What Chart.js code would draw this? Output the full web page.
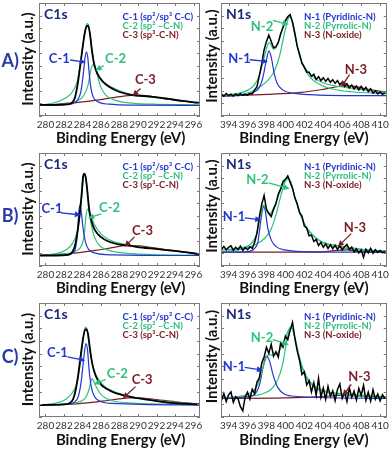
<!DOCTYPE html>
<html>
<head>
<meta charset="utf-8">
<script src="https://cdn.jsdelivr.net/npm/chart.js@4.4.0/dist/chart.umd.min.js"></script>
<style>
html, body { margin: 0; padding: 0; background: #fff; }
#wrap { position: relative; width: 392px; height: 451px; overflow: hidden; }
canvas { position: absolute; }
</style>
</head>
<body>
<div id="wrap">
  <canvas id="aC" width="215" height="150" style="left:0;top:0"></canvas>
  <canvas id="aN" width="192" height="150" style="left:200px;top:0"></canvas>
  <canvas id="bC" width="215" height="150" style="left:0;top:150px"></canvas>
  <canvas id="bN" width="192" height="150" style="left:200px;top:150px"></canvas>
  <canvas id="cC" width="215" height="151" style="left:0;top:300px"></canvas>
  <canvas id="cN" width="192" height="151" style="left:200px;top:300px"></canvas>
</div>
<script>
// axes
var c1sTicks = [280, 282, 284, 286, 288, 290, 292, 294, 296];
var n1sTicks = [394, 396, 398, 400, 402, 404, 406, 408, 410];
var yTicks = [0, 10, 20, 30, 40, 50, 60, 70, 80, 90];

// C1s spectra, [binding energy, intensity]
var aC1sData = [[279.27,8.9],[281.13,8.9],[282.56,9.4],[282.99,11.5],[283.21,15.4],[283.46,24.5],[283.71,37.6],[283.99,53.2],[284.25,66.3],[284.46,71.5],[284.61,72.0],[284.79,66.3],[285.0,53.2],[285.25,41.5],[285.61,33.7],[286.15,27.7],[286.87,23.2],[287.94,19.3],[289.37,16.7],[290.81,15.9],[291.88,15.1],[293.32,13.6],[294.75,12.0],[296.69,10.4]];
var aC1sFit = [[279.27,8.35],[281.13,10.96],[282.21,14.6],[282.92,19.3],[283.46,28.4],[283.82,44.1],[284.18,63.6],[284.43,72.8],[284.57,73.6],[284.79,66.8],[285.07,50.6],[285.43,37.6],[285.97,29.7],[286.87,24.0],[288.3,19.3],[289.73,16.4],[291.52,14.9],[293.32,13.6],[296.69,9.9]];
var aC1 = [[279.27,8.35],[281.85,8.87],[282.92,9.9],[283.46,12.8],[283.82,19.3],[284.07,32.4],[284.28,46.7],[284.43,51.1],[284.57,46.7],[284.71,35.0],[284.89,23.2],[285.14,15.4],[285.61,11.5],[286.87,9.4],[289.73,8.6],[296.69,8.35]];
var aC2 = [[279.27,8.35],[281.85,9.4],[283.28,11.5],[284.18,16.7],[284.64,25.8],[284.89,36.3],[285.14,40.7],[285.36,38.9],[285.61,32.4],[285.97,23.2],[286.51,16.7],[287.4,12.8],[289.02,10.4],[291.52,9.4],[296.69,8.87]];
var aC3 = [[279.27,8.35],[282.56,10.2],[286.15,13.3],[288.3,15.65],[289.73,16.7],[290.81,16.2],[292.6,14.1],[294.75,12.0],[296.69,10.4]];

var bC1sData = [[279.27,8.35],[281.13,8.35],[282.38,8.87],[282.74,9.9],[283.1,14.1],[283.35,21.9],[283.64,37.6],[283.89,55.8],[284.07,71.5],[284.21,73.6],[284.36,70.2],[284.54,58.4],[284.71,45.4],[285.0,35.0],[285.36,28.4],[285.97,23.2],[286.87,19.3],[287.94,17.2],[289.02,16.2],[290.45,14.6],[291.88,13.6],[293.32,12.5],[295.11,11.0],[296.69,9.4]];
var bC1sFit = [[279.27,8.35],[281.13,9.9],[282.21,12.8],[282.92,18.0],[283.46,28.4],[283.82,46.7],[284.07,67.6],[284.21,72.8],[284.36,70.2],[284.57,55.8],[284.82,42.8],[285.25,33.7],[285.97,25.8],[287.22,19.8],[289.02,16.7],[291.52,14.1],[296.69,9.4]];
var bC1 = [[279.27,8.35],[282.21,8.87],[282.92,10.2],[283.28,15.4],[283.46,27.1],[283.6,42.8],[283.71,48.5],[283.85,44.1],[284.07,29.7],[284.36,18.0],[284.71,12.8],[285.43,10.2],[287.22,8.87],[296.69,8.35]];
var bC2 = [[279.27,8.35],[281.85,9.4],[283.28,12.0],[283.93,16.7],[284.18,24.5],[284.36,38.9],[284.54,45.4],[284.71,42.8],[284.93,33.7],[285.25,24.0],[285.79,16.7],[286.69,12.8],[288.3,10.4],[291.52,9.1],[296.69,8.6]];
var bC3 = [[279.27,8.35],[282.56,9.9],[285.43,12.5],[287.22,14.6],[288.66,16.2],[289.73,16.2],[291.52,14.6],[294.03,12.0],[296.69,9.4]];

var cC1sData = [[279.27,9.4],[281.85,9.9],[282.56,10.7],[282.99,14.1],[283.28,21.9],[283.57,35.0],[283.82,49.3],[284.07,62.4],[284.28,68.9],[284.43,69.4],[284.61,65.0],[284.82,53.2],[285.07,41.5],[285.43,32.4],[285.97,25.8],[286.69,21.9],[287.58,18.8],[288.66,16.7],[289.73,15.1],[291.16,13.6],[292.6,12.0],[294.39,10.7],[296.69,9.9]];
var cC1sFit = [[279.27,9.4],[281.13,11.0],[282.21,14.1],[282.92,19.3],[283.46,28.4],[283.82,45.4],[284.11,63.7],[284.32,71.0],[284.5,68.9],[284.71,57.1],[285.0,44.1],[285.43,33.7],[286.15,25.8],[287.22,20.6],[288.66,17.2],[290.81,14.1],[293.32,12.0],[296.69,10.2]];
var cC1 = [[279.27,9.4],[282.21,9.9],[283.1,11.5],[283.57,16.7],[283.89,29.7],[284.14,46.7],[284.36,57.9],[284.54,53.2],[284.71,37.6],[284.93,24.5],[285.25,16.7],[285.79,12.8],[287.22,10.7],[296.69,9.4]];
var cC2 = [[279.27,9.4],[281.85,9.9],[283.64,12.0],[284.36,15.4],[284.71,21.9],[284.89,27.7],[285.04,30.3],[285.25,27.7],[285.61,21.9],[286.15,16.7],[287.22,12.8],[289.37,11.0],[296.69,9.9]];
var cC3 = [[279.27,9.4],[283.28,10.4],[286.15,12.5],[287.94,14.3],[289.02,15.1],[290.09,15.1],[291.52,14.1],[294.03,12.0],[296.69,10.2]];

// N1s raw counts on the measured energy steps
var n1sEnergy = [393.25,393.5,393.75,394,394.25,394.5,394.75,395,395.25,395.5,395.75,396,396.25,396.5,396.75,397,397.25,397.5,397.75,398,398.25,398.5,398.75,399,399.25,399.5,399.75,400,400.25,400.5,400.75,401,401.25,401.5,401.75,402,402.25,402.5,402.75,403,403.25,403.5,403.75,404,404.25,404.5,404.75,405,405.25,405.5,405.75,406,406.25,406.5,406.75,407,407.25,407.5,407.75,408,408.25,408.5,408.75,409,409.25,409.5,409.75,410,410.25,410.5];
var aN1sCounts = [17.5,15.8,17.9,16.2,17.4,15.9,17.6,16.3,17.8,16.5,17.2,16.6,18.0,17.6,20.8,23.4,32.2,41.5,52.6,59.4,64.5,59.6,54.4,55.1,58.6,65.5,70.6,76.0,79.0,80.8,75.0,66.0,55.4,49.2,41.8,38.9,35.0,34.9,31.6,33.2,29.0,31.4,28.2,30.5,27.6,29.8,26.9,28.9,26.0,28.3,24.8,26.8,23.6,25.7,22.4,24.6,21.5,23.9,20.8,23.6,20.5,22.8,19.4,21.6,18.3,20.0,17.6,19.1,17.2,18.4];
var bN1sCounts = [13.2,15.6,12.9,14.8,16.0,12.6,14.9,13.1,15.8,12.4,14.6,13.0,15.2,14.0,18.8,26.2,39.4,49.1,56.2,45.3,42.0,39.4,45.1,49.6,57.4,61.5,67.3,69.0,71.8,66.6,62.0,54.1,49.6,42.4,39.7,31.8,30.3,24.1,24.6,19.5,21.2,16.4,18.8,14.9,17.6,14.0,16.9,13.6,16.5,13.2,16.0,12.9,15.4,17.2,13.0,15.0,11.2,13.6,10.4,12.8,7.0,13.4,10.6,14.0,10.2,12.9,10.8,12.4,10.5,11.8];
var cN1sCounts = [13.0,18.6,12.2,17.4,19.8,11.6,16.0,14.4,8.2,4.9,15.8,19.6,14.2,21.8,18.4,27.6,30.8,42.5,47.4,55.0,50.2,57.3,48.0,51.5,47.3,58.6,55.2,63.8,61.0,68.4,74.6,62.3,52.0,44.6,33.5,35.8,25.4,28.6,19.7,27.0,17.2,30.4,15.6,22.8,14.0,24.2,16.4,20.6,13.0,21.8,26.2,14.8,19.4,12.2,23.0,15.6,20.4,13.4,22.6,17.0,25.0,13.2,19.6,12.6,21.4,14.0,18.2,12.8,17.6,14.6];

// N1s fitted components
var aN1sFit = [[393.16,16.2],[394.99,18.0],[396.04,20.6],[396.75,25.0],[397.28,32.9],[397.8,48.0],[398.15,57.1],[398.33,58.4],[398.61,54.5],[398.86,53.2],[399.21,58.4],[399.74,70.2],[400.16,78.0],[400.4,79.3],[400.69,76.2],[401.04,63.7],[401.5,48.0],[402.02,38.9],[402.73,32.4],[403.78,27.1],[405.19,24.0],[406.24,23.0],[407.65,21.4],[410.7,18.6]];
var aN1 = [[393.16,16.0],[395.69,16.7],[396.75,19.3],[397.28,23.2],[397.63,31.0],[397.98,44.1],[398.26,51.9],[398.51,46.7],[398.79,35.0],[399.14,25.8],[399.74,20.6],[400.97,18.0],[403.43,16.7],[410.7,16.2]];
var aN2 = [[393.16,16.0],[394.99,16.7],[396.4,19.3],[397.45,24.0],[398.15,28.4],[398.86,36.3],[399.39,48.0],[399.91,66.3],[400.26,76.7],[400.4,78.8],[400.62,77.2],[400.97,65.0],[401.5,48.0],[402.02,37.6],[402.73,29.7],[403.78,24.5],[405.19,21.1],[406.94,19.3],[410.7,17.7]];
var aN3 = [[393.16,16.0],[398.15,17.2],[401.67,18.8],[404.13,21.4],[405.89,23.7],[406.94,24.0],[408.35,21.9],[410.7,18.8]];

var bN1sFit = [[393.16,12.8],[394.99,14.1],[396.22,16.7],[396.92,24.5],[397.28,36.3],[397.56,46.7],[397.73,48.5],[397.98,44.1],[398.33,41.5],[398.86,48.0],[399.39,58.4],[399.91,67.6],[400.26,70.2],[400.54,67.6],[400.97,55.8],[401.5,42.8],[402.2,31.0],[403.08,23.2],[404.13,18.5],[405.54,16.2],[406.94,14.6],[408.7,12.8],[410.7,12.0]];
var bN1 = [[393.16,11.0],[396.04,11.5],[396.75,14.1],[397.1,19.3],[397.38,35.0],[397.56,44.1],[397.7,47.5],[397.87,44.1],[398.15,29.7],[398.51,20.6],[399.03,15.4],[399.91,12.8],[402.02,11.5],[410.7,11.0]];
var bN2 = [[393.16,11.5],[394.99,12.8],[396.75,16.7],[397.8,21.9],[398.51,29.7],[399.03,41.5],[399.56,57.1],[399.98,67.1],[400.26,69.4],[400.54,67.6],[400.97,55.8],[401.5,42.8],[402.2,31.0],[403.08,23.2],[404.13,18.0],[405.89,14.6],[407.65,12.8],[410.7,11.5]];
var bN3 = [[393.16,11.0],[403.43,11.0],[405.54,12.5],[406.59,12.8],[407.65,11.5],[410.7,11.0]];

var cN1sFit = [[393.16,15.4],[394.99,16.2],[396.4,19.3],[397.1,25.8],[397.63,38.9],[398.05,48.0],[398.33,49.3],[398.68,48.5],[399.21,50.6],[399.74,58.4],[400.19,66.3],[400.55,71.0],[400.79,68.9],[401.14,58.4],[401.6,44.1],[402.2,32.4],[403.08,24.5],[404.48,19.8],[406.24,18.3],[408.0,17.2],[410.7,15.9]];
var cN1 = [[393.16,15.1],[395.69,15.7],[396.75,18.0],[397.28,25.8],[397.63,38.9],[397.98,48.0],[398.33,44.1],[398.68,33.7],[399.21,23.2],[399.91,18.0],[401.32,16.2],[403.43,15.4],[410.7,14.6]];
var cN2 = [[393.16,15.1],[395.69,16.2],[397.45,18.0],[398.51,21.9],[399.21,29.7],[399.74,42.8],[400.16,61.0],[400.41,68.9],[400.58,70.2],[400.79,68.4],[401.14,57.1],[401.6,42.8],[402.2,31.0],[403.08,23.2],[404.48,19.3],[406.94,16.7],[410.7,15.4]];
var cN3 = [[393.16,14.6],[399.91,15.1],[403.43,15.9],[405.54,17.0],[406.59,17.5],[408.0,16.7],[410.7,15.7]];

// legend entries
var c1sLegend = ['C-1 (sp\u00b2/sp\u00b3 C-C)', 'C-2 (sp\u00b2 \u2013C-N)', 'C-3 (sp\u00b3-C-N)'];
var n1sLegend = ['N-1 (Pyridinic-N)', 'N-2 (Pyrrolic-N)', 'N-3 (N-oxide)'];

var BLUE = '#2536cf', GREEN = '#2fc07e', BROWN = '#7a1c26', NAVY = '#1b2a7c';
var FONT = 'Lato, "Open Sans", sans-serif';

function pts(arr) { return arr.map(function (p) { return { x: p[0], y: p[1] }; }); }
function zip(xs, ys) { return xs.map(function (x, i) { return { x: x, y: ys[i] }; }); }

// peak labels: [text, colour, textX, textY, arrowFromX, arrowFromY, arrowToX, arrowToY]
var panels = {
  aC: { kind: 'C', row: 'A)', rowY: 43.8, data: pts(aC1sData), fit: aC1sFit, comps: [aC1, aC2, aC3],
        labels: [['C-1', BLUE, 281.5, 45.4, 282.67, 44.6, 284.35, 42.8],
                 ['C-2', GREEN, 287.58, 45.4, 286.29, 40.1, 285.43, 36.2],
                 ['C-3', BROWN, 290.8, 29, 290.27, 21.9, 289.4, 16.0]] },
  aN: { kind: 'N', data: zip(n1sEnergy, aN1sCounts), fit: aN1sFit, comps: [aN1, aN2, aN3],
        labels: [['N-2', GREEN, 397.53, 71.2, 398.69, 76.2, 400.34, 72.8],
                 ['N-1', BLUE, 395.15, 45.4, 396.23, 44.8, 398.16, 43.3],
                 ['N-3', BROWN, 407.44, 37.0, 406.78, 32.9, 405.89, 23.2]] },
  bC: { kind: 'C', row: 'B)', rowY: 39.9, data: pts(bC1sData), fit: bC1sFit, comps: [bC1, bC2, bC3],
        labels: [['C-1', BLUE, 280.7, 45.4, 281.67, 42.3, 283.82, 40.7],
                 ['C-2', GREEN, 286.93, 46.7, 286.04, 41.5, 284.6, 38.1],
                 ['C-3', BROWN, 290.48, 28.4, 289.62, 23.2, 288.55, 15.4]] },
  bN: { kind: 'N', data: zip(n1sEnergy, bN1sCounts), fit: bN1sFit, comps: [bN1, bN2, bN3],
        labels: [['N-2', GREEN, 397.05, 68.9, 398.23, 66.3, 400.45, 61.6],
                 ['N-1', BLUE, 394.57, 38.9, 395.7, 38.3, 397.45, 36.8],
                 ['N-3', BROWN, 407.34, 30.3, 406.95, 25.8, 405.54, 15.4]] },
  cC: { kind: 'C', row: 'C)', rowY: 47.0, data: pts(cC1sData), fit: cC1sFit, comps: [cC1, cC2, cC3],
        labels: [['C-1', BLUE, 281.29, 50.6, 282.39, 47.5, 284.28, 44.6],
                 ['C-2', GREEN, 287.76, 34.4, 286.5, 29.7, 285.25, 25.8],
                 ['C-3', BROWN, 290.45, 29.7, 289.73, 24.0, 288.36, 14.6]] },
  cN: { kind: 'N', data: zip(n1sEnergy, cN1sCounts), fit: cN1sFit, comps: [cN1, cN2, cN3],
        labels: [['N-2', GREEN, 397.53, 62.9, 398.69, 61.0, 400.37, 57.1],
                 ['N-1', BLUE, 394.57, 39.4, 395.7, 39.1, 397.63, 37.0],
                 ['N-3', BROWN, 407.81, 31.8, 406.95, 25.8, 406.07, 16.7]] }
};

function arrow(ctx, x1, y1, x2, y2, color) {
  var a = Math.atan2(y2 - y1, x2 - x1), c = Math.cos(a), s = Math.sin(a);
  ctx.strokeStyle = color; ctx.fillStyle = color; ctx.lineWidth = 1.3;
  ctx.beginPath(); ctx.moveTo(x1, y1); ctx.lineTo(x2 - 4 * c, y2 - 4 * s); ctx.stroke();
  ctx.beginPath(); ctx.moveTo(x2, y2);
  ctx.lineTo(x2 - 6 * c + 3 * s, y2 - 6 * s - 3 * c);
  ctx.lineTo(x2 - 6 * c - 3 * s, y2 - 6 * s + 3 * c);
  ctx.closePath(); ctx.fill();
}

var decor = {
  id: 'decor',
  afterDraw: function (chart) {
    var p = panels[chart.canvas.id], ctx = chart.ctx, a = chart.chartArea;
    var x = chart.scales.x, y = chart.scales.y;
    var isC = p.kind === 'C';
    ctx.save();
    // frame with inner ticks
    ctx.strokeStyle = '#7a7a7a'; ctx.lineWidth = 1;
    ctx.strokeRect(Math.round(a.left) + 0.5, Math.round(a.top) + 0.5, Math.round(a.right - a.left) - 1, Math.round(a.bottom - a.top) - 1);
    ctx.beginPath();
    yTicks.forEach(function (v) {
      var py = Math.round(y.getPixelForValue(v)) + 0.5;
      ctx.moveTo(a.left, py); ctx.lineTo(a.left + 3, py);
      ctx.moveTo(a.right, py); ctx.lineTo(a.right - 3, py);
    });
    (isC ? c1sTicks : n1sTicks).forEach(function (v) {
      var px = Math.round(x.getPixelForValue(v)) + 0.5;
      ctx.moveTo(px, a.bottom); ctx.lineTo(px, a.bottom - 3);
      ctx.moveTo(px, a.top); ctx.lineTo(px, a.top + 3);
    });
    ctx.stroke();

    ctx.textBaseline = 'middle';
    // panel title
    ctx.fillStyle = NAVY; ctx.textAlign = 'left';
    ctx.font = 'bold 14px ' + FONT;
    ctx.fillText(isC ? 'C1s' : 'N1s', x.getPixelForValue(isC ? 279.84 : 393.73), y.getPixelForValue(80.6));
    // legend text
    ctx.font = 'bold 9.5px ' + FONT;
    var lx = x.getPixelForValue(isC ? 288.33 : 401.96);
    [BLUE, GREEN, BROWN].forEach(function (col, i) {
      ctx.fillStyle = col;
      ctx.fillText((isC ? c1sLegend : n1sLegend)[i], lx, y.getPixelForValue([78.8, 71.6, 64.6][i]));
    });
    // peak labels
    ctx.font = 'bold 13px ' + FONT; ctx.textAlign = 'center';
    p.labels.forEach(function (l) {
      ctx.fillStyle = l[1];
      ctx.fillText(l[0], x.getPixelForValue(l[2]), y.getPixelForValue(l[3]));
      arrow(ctx, x.getPixelForValue(l[4]), y.getPixelForValue(l[5]), x.getPixelForValue(l[6]), y.getPixelForValue(l[7]), l[1]);
    });
    // axis titles
    ctx.fillStyle = '#111'; ctx.font = 'bold 15px ' + FONT;
    ctx.fillText('Binding Energy (eV)', x.getPixelForValue(isC ? 288.12 : 401.96), y.getPixelForValue(-18));
    ctx.save();
    ctx.translate(x.getPixelForValue(isC ? 278.12 : 392.25), y.getPixelForValue(isC ? 45.4 : 47.7));
    ctx.rotate(-Math.PI / 2);
    ctx.fillText('Intensity (a.u.)', 0, 0);
    ctx.restore();
    // row label
    if (p.row) {
      ctx.fillStyle = '#2b3aa6'; ctx.font = 'bold 18px ' + FONT;
      ctx.fillText(p.row, x.getPixelForValue(276.18), y.getPixelForValue(p.rowY));
    }
    ctx.restore();
  }
};

function line(data, color, width, smooth) {
  return { data: data, borderColor: color, borderWidth: width, pointRadius: 0, fill: false,
           tension: smooth ? 0.4 : 0, cubicInterpolationMode: smooth ? 'monotone' : 'default' };
}

Object.keys(panels).forEach(function (id) {
  var p = panels[id], isC = p.kind === 'C';
  var tickList = isC ? c1sTicks : n1sTicks;
  new Chart(document.getElementById(id), {
    type: 'line',
    data: {
      datasets: [
        line(p.data, '#000', isC ? 1.8 : 1.5, isC),
        line(pts(p.fit), GREEN, 1.2, true),
        line(pts(p.comps[0]), BLUE, 1.2, true),
        line(pts(p.comps[1]), GREEN, 1.2, true),
        line(pts(p.comps[2]), BROWN, 1.2, true)
      ]
    },
    options: {
      responsive: false,
      animation: false,
      events: [],
      layout: { padding: isC ? { left: 39, right: 15, top: 3, bottom: 16 } : { left: 21, right: 5, top: 3, bottom: 16 } },
      plugins: { legend: { display: false }, tooltip: { enabled: false } },
      scales: {
        x: {
          type: 'linear',
          min: isC ? 279.3 : 393.2,
          max: isC ? 296.7 : 410.7,
          afterBuildTicks: function (s) { s.ticks = tickList.map(function (v) { return { value: v }; }); },
          grid: { display: false, drawTicks: false },
          border: { display: false },
          ticks: { autoSkip: false, maxRotation: 0, padding: 3, color: '#333', font: { family: FONT, size: 10 } }
        },
        y: { display: false, min: 0, max: 90 }
      }
    },
    plugins: [decor]
  });
});
</script>
</body>
</html>
